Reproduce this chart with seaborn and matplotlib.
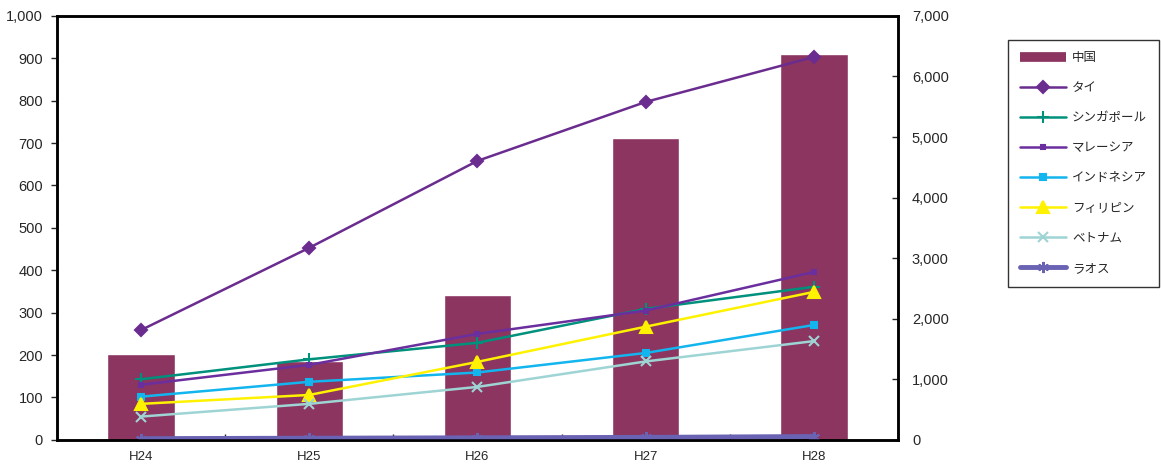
import numpy as np
import pandas as pd
import matplotlib
matplotlib.use('Agg')
import matplotlib.pyplot as plt
import seaborn as sns
from matplotlib.ticker import FuncFormatter, FixedLocator
from matplotlib.lines import Line2D

sns.set_style('white')
plt.rcParams['font.family'] = ['Liberation Sans', 'Noto Sans CJK JP', 'DejaVu Sans']

years = ['H24', 'H25', 'H26', 'H27', 'H28']

# China is drawn as bars on the right-hand scale
china = [1420, 1309, 2394, 4986, 6372]

# the other countries are lines on the left-hand scale
thai = [259, 453, 658, 797, 903]
singapore = [143, 190, 229, 309, 361]
malaysia = [130, 177, 250, 305, 396]
indonesia = [102, 137, 159, 205, 271]
philippines = [85, 106, 184, 267, 349]
vietnam = [55, 85, 125, 185, 233]
laos = [3, 4, 5, 6, 8]

line_names = ['タイ', 'シンガポール', 'マレーシア', 'インドネシア', 'フィリピン', 'ベトナム', 'ラオス']
line_values = [thai, singapore, malaysia, indonesia, philippines, vietnam, laos]
line_colors = ['#6B2C8F', '#00917C', '#6B2E9E', '#12B5EE', '#FFF200', '#9FD4D4', '#6A62B2']
line_markers = ['D', '+', 's', 's', '^', 'x', (6, 2, 0)]
marker_sizes = [8, 10, 3, 5, 10, 9, 10]
line_widths = [1.8, 1.8, 1.8, 1.8, 1.8, 1.8, 3.5]

fig, ax_bar = plt.subplots(figsize=(11.61, 4.66), dpi=100)
fig.subplots_adjust(left=0.049, right=0.7735, top=0.966, bottom=0.056)

bar_df = pd.DataFrame({'year': years, 'value': china})
sns.barplot(data=bar_df, x='year', y='value', color='#8B3560', saturation=1,
            width=0.4, ax=ax_bar)
ax_bar.set_ylim(0, 7000)
ax_bar.set_yticks(np.arange(0, 7001, 1000))

ax_line = ax_bar.twinx()
for name, vals, c, m, ms, lw in zip(line_names, line_values, line_colors,
                                    line_markers, marker_sizes, line_widths):
    d = pd.DataFrame({'year': years, 'value': vals})
    sns.lineplot(data=d, x='year', y='value', color=c, marker=m, markersize=ms,
                 markeredgecolor=c, markeredgewidth=1.5, linewidth=lw,
                 ax=ax_line, label=name)
ax_line.set_ylim(0, 1000)
ax_line.set_yticks(np.arange(0, 1001, 100))
ax_line.set_xlim(-0.5, 4.5)
ax_bar.set_xlim(-0.5, 4.5)

# swap sides: bars read on the right, lines on the left
ax_bar.yaxis.tick_right()
ax_line.yaxis.tick_left()

fmt = FuncFormatter(lambda v, p: f'{int(v):,}')
ax_bar.yaxis.set_major_formatter(fmt)
ax_line.yaxis.set_major_formatter(fmt)

for a in (ax_bar, ax_line):
    a.set_xlabel('')
    a.set_ylabel('')
    for s in a.spines.values():
        s.set_color('black')
        s.set_linewidth(1.8)

ax_bar.tick_params(axis='y', direction='in', length=4, width=1, labelsize=10.5,
                   right=True, left=False, labelright=True, labelleft=False, pad=10)
ax_line.tick_params(axis='y', direction='out', length=4, width=1, labelsize=10.5,
                    left=True, right=False, labelleft=True, labelright=False, pad=6)
ax_bar.tick_params(axis='x', length=0, labelsize=9.5, pad=8)
ax_bar.xaxis.set_minor_locator(FixedLocator([0.5, 1.5, 2.5, 3.5]))
ax_bar.tick_params(axis='x', which='minor', direction='in', length=4, width=1,
                   bottom=True)

handles_l, labels_l = ax_line.get_legend_handles_labels()
if ax_line.get_legend():
    ax_line.get_legend().remove()
for h in handles_l:
    h.set_markersize(h.get_markersize() * 0.8)

bar_handle = Line2D([], [], color='#8B3560', linewidth=7, solid_capstyle='butt')
leg = fig.legend([bar_handle] + handles_l, ['中国'] + labels_l,
                 loc='upper left', bbox_to_anchor=(0.868, 0.914),
                 frameon=True, fancybox=False, edgecolor='black',
                 fontsize=9, handlelength=3.7, labelspacing=1.45,
                 borderpad=0.95, handletextpad=0.5, borderaxespad=0)
leg.get_frame().set_linewidth(1)

fig.savefig('out.png', dpi=100)
